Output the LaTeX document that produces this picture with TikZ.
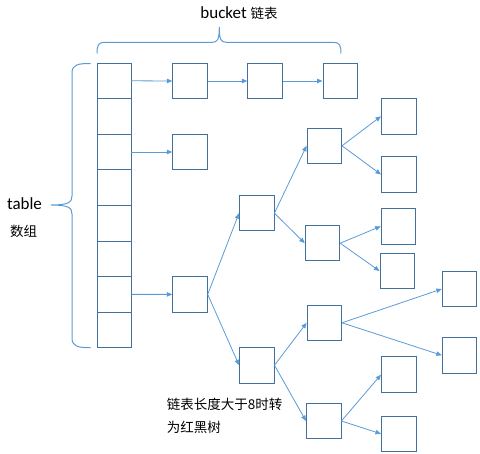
\documentclass[tikz,border=0pt]{standalone}
\usepackage{fontspec}
\setmainfont{Carlito}
\newfontfamily\cjk{Noto Sans CJK SC}
\usetikzlibrary{arrows.meta}
\definecolor{boxc}{HTML}{41719C}
\definecolor{arrc}{HTML}{5B9BD5}
\begin{document}
\begin{tikzpicture}[x=1pt,y=-1pt,
  box/.style={draw=boxc,line width=0.9pt,minimum width=34.5pt,minimum height=35.5pt,inner sep=0pt},
  cell/.style={draw=boxc,line width=0.9pt,minimum width=34pt,minimum height=35.6pt,inner sep=0pt},
  link/.style={draw=arrc,line width=0.8pt,-{Triangle[length=5.5pt,width=4.5pt]}},
  brace/.style={draw=arrc,line width=1pt},
  lab/.style={inner sep=0pt,font=\fontsize{17}{20}\selectfont},
  cjklab/.style={inner sep=0pt,font=\fontsize{13.5}{16}\selectfont\cjk}]
\useasboundingbox (0,0) rectangle (480,454);
% array cells
\foreach \i in {1,...,8} {
  \node[cell] (c\i) at (114,{63+17.8+(\i-1)*35.6}) {};
}
% bucket lists
\node[box] (b1) at (190,81) {};
\node[box] (b2) at (265,81) {};
\node[box] (b3) at (340.2,81) {};
\node[box] (b4) at (190,152) {};
% tree
\node[box] (r) at (190,294.4) {};
\node[box] (u) at (256.7,213.2) {};
\node[box] (l) at (256.8,365.3) {};
\node[box] (A) at (324.3,145.8) {};
\node[box] (B) at (322.5,243.2) {};
\node[box] (C) at (324.3,322.8) {};
\node[box] (D) at (323.7,421) {};
\node[box] (A1) at (398.7,116.3) {};
\node[box] (A2) at (398.7,174.5) {};
\node[box] (B1) at (398.5,226.3) {};
\node[box] (B2) at (397.2,271) {};
\node[box] (C1) at (459.5,289) {};
\node[box] (C2) at (459.5,355.3) {};
\node[box] (D1) at (398.7,374.7) {};
\node[box] (D2) at (398.7,433.8) {};
% connectors
\draw[link] (c1.east) -- (b1.west);
\draw[link] (b1.east) -- (b2.west);
\draw[link] (b2.east) -- (b3.west);
\draw[link] (c3.east) -- (b4.west);
\draw[link] (c7.east) -- (r.west);
\draw[link] (r.east) -- (u.west);
\draw[link] (r.east) -- (l.west);
\draw[link] (u.east) -- (A.west);
\draw[link] (u.east) -- (B.west);
\draw[link] (l.east) -- (C.west);
\draw[link] (l.east) -- (D.west);
\draw[link] (A.east) -- (A1.west);
\draw[link] (A.east) -- (A2.west);
\draw[link] (B.east) -- (B1.west);
\draw[link] (B.east) -- (B2.west);
\draw[link] (C.east) -- (C1.west);
\draw[link] (C.east) -- (C2.west);
\draw[link] (D.east) -- (D1.west);
\draw[link] (D.east) -- (D2.west);
% braces
\draw[brace] (97,53.5) .. controls (97,45) and (98.5,42.3) .. (105,42.3) -- (212,42.3)
  .. controls (217.5,42.3) and (219.3,40) .. (219.3,27)
  .. controls (219.3,40) and (221,42.3) .. (226.5,42.3) -- (333,42.3)
  .. controls (339.5,42.3) and (341,45) .. (341,53.5);
\draw[brace] (90.7,63.5) .. controls (78,63.5) and (72,64.5) .. (72,73) -- (72,196)
  .. controls (72,202.5) and (68,205) .. (51,205)
  .. controls (68,205) and (72,207.5) .. (72,214) -- (72,338)
  .. controls (72,346.5) and (78,347.7) .. (90.7,347.7);
% labels
\node[lab] (tb) at (239,13) {bucket {\cjk\fontsize{13.5}{16}\selectfont 链表}};
\node[lab] (tt) at (24.5,204) {table};
\node[cjklab] (ts) at (23.5,231.7) {数组};
\node[cjklab,anchor=west] (n1) at (166.7,404) {链表长度大于8时转};
\node[cjklab,anchor=west] (n2) at (166.7,427.3) {为红黑树};
\end{tikzpicture}
\end{document}
